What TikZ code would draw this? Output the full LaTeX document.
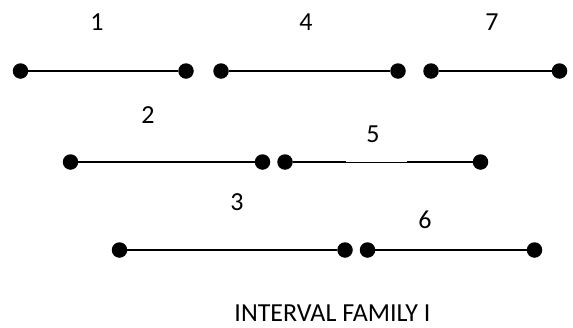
\documentclass[tikz,border=0pt]{standalone}
\usepackage{fontspec}
\setmainfont{Carlito}
\begin{document}
\begin{tikzpicture}[x=1pt,y=-1pt,
  endpoint/.style={circle,fill=black,inner sep=0pt,minimum size=15.5pt},
  segment/.style={line width=2.2pt},
  tag/.style={anchor=base,inner sep=0pt,font=\fontsize{26}{31}\selectfont}]
\useasboundingbox (0,0) rectangle (573,327);

% first row of intervals
\node[endpoint] (a1) at (20.5,71) {};
\node[endpoint] (b1) at (186,71) {};
\node[endpoint] (a4) at (221,71) {};
\node[endpoint] (b4) at (398,71) {};
\node[endpoint] (a7) at (431,71) {};
\node[endpoint] (b7) at (559.5,71) {};

% second row
\node[endpoint] (a2) at (70.5,162) {};
\node[endpoint] (b2) at (262.5,162) {};
\node[endpoint] (a5) at (285,162) {};
\node[endpoint] (b5) at (480.5,162) {};

% third row
\node[endpoint] (a3) at (119.5,250) {};
\node[endpoint] (b3) at (345,250) {};
\node[endpoint] (a6) at (367.5,250) {};
\node[endpoint] (b6) at (534.5,250) {};

\draw[segment] (a1) -- (b1);
\draw[segment] (a4) -- (b4);
\draw[segment] (a7) -- (b7);
\draw[segment] (a2) -- (b2);
\draw[segment] (a5) -- (b5);
\draw[segment] (a3) -- (b3);
\draw[segment] (a6) -- (b6);

% the middle of interval 5 is thinner
\fill[white] (346,150) rectangle (407,162.1);

% interval numbers
\node[tag] (n1) at (97,30) {1};
\node[tag] (n4) at (306,30) {4};
\node[tag] (n7) at (492,30) {7};
\node[tag] (n2) at (148,123) {2};
\node[tag] (n5) at (373,142) {5};
\node[tag] (n3) at (237,210) {3};
\node[tag] (n6) at (425,228) {6};

\node[tag] (cap) at (332.5,321.5) {INTERVAL FAMILY I};
\end{tikzpicture}
\end{document}
